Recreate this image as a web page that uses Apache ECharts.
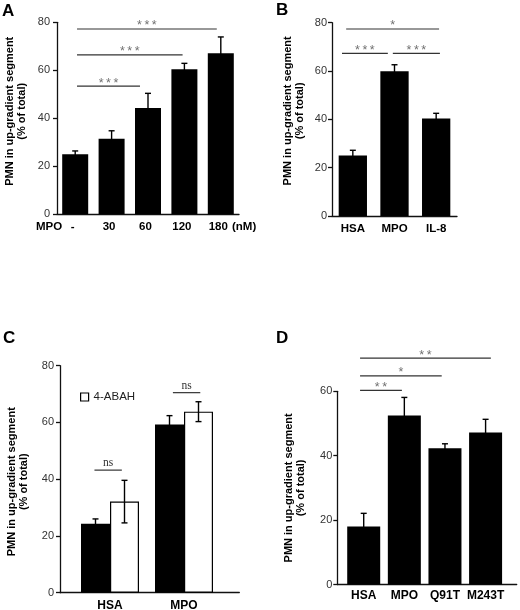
<!DOCTYPE html>
<html><head><meta charset="utf-8">
<script src="https://cdn.jsdelivr.net/npm/echarts@6/dist/echarts.min.js"></script>
<style>html,body{margin:0;padding:0;background:#fff}#c{width:520px;height:610px}</style>
</head><body><div id="c"></div>
<script>
// ---- Panel A ----
const aCategories = ['-', '30', '60', '120', '180'];
const aValues = [25, 31.5, 44.3, 60.4, 67.1];
const aErrors = [1.4, 3.3, 6.1, 2.5, 6.8];
// [from (category units), to (category units), y value, label]
const aSig = [[0.05, 3.89, 77.2, '*\u2009*\u2009*'], [0.05, 2.95, 66.4, '*\u2009*\u2009*'], [0.05, 1.78, 53.4, '*\u2009*\u2009*']];

// ---- Panel B ----
const bCategories = ['HSA', 'MPO', 'IL-8'];
const bValues = [25, 59.9, 40.4];
const bErrors = [2.2, 2.7, 2.1];
const bSig = [[-0.16, 2.07, 77.4, '*'], [-0.26, 0.84, 67.3, '*\u2009*\u2009*'], [0.96, 2.09, 67.3, '*\u2009*\u2009*']];

// ---- Panel C ----
const cCategories = ['HSA', 'MPO'];
const cControl = [24.3, 59.3];
const cControlErr = [1.7, 3.1];
const cAbah = [32.1, 63.8];
const cAbahErr = [7.5, 3.5];
const cSig = [[-0.21, 0.16, 43.2, 'ns'], [0.85, 1.22, 70.5, 'ns']];

// ---- Panel D ----
const dCategories = ['HSA', 'MPO', 'Q91T', 'M243T'];
const dValues = [18.0, 52.5, 42.3, 47.2];
const dErrors = [4.1, 5.6, 1.4, 4.1];
const dSig = [[-0.09, 3.13, 70.3, '*\u2009*'], [-0.09, 1.92, 64.8, '*'], [-0.09, 0.94, 60.3, '*\u2009*']];

const yTitle = 'PMN in up-gradient segment\n(% of total)';
const FONT = '"Liberation Sans", Arial, Helvetica, sans-serif';
const SERIF = '"Liberation Serif", "Times New Roman", serif';
const AX = {color: '#111', width: 1.3};

function yAxisCfg(gridIndex, max, margin, nameGap, shift, offset) {
  return {
    type: 'value', gridIndex: gridIndex, min: 0, max: max, interval: 20, offset: offset || 0,
    name: yTitle, nameLocation: 'middle', nameRotate: 90, nameGap: nameGap,
    nameTextStyle: {fontFamily: FONT, fontWeight: 'bold', fontSize: 11, color: '#000', lineHeight: 12,
      padding: shift > 0 ? [0, 0, 0, 2 * shift] : [0, -2 * shift, 0, 0]},
    axisLine: {show: true, onZero: false, lineStyle: AX},
    axisTick: {show: true, inside: false, length: 4, lineStyle: AX},
    axisLabel: {fontFamily: FONT, fontSize: 11, color: '#333', margin: margin},
    splitLine: {show: false}
  };
}
function xCatCfg(gridIndex, data, fontSize, margin, showLine, pad) {
  return {
    type: 'category', gridIndex: gridIndex, data: data,
    axisLine: {show: showLine, onZero: false, lineStyle: AX},
    axisTick: {show: false},
    axisLabel: {fontFamily: FONT, fontWeight: 'bold', fontSize: fontSize, color: '#000', margin: margin,
      interval: 0, padding: pad || 0},
    splitLine: {show: false}
  };
}
function frameX(gridIndex) {
  return {type: 'value', gridIndex: gridIndex, min: 0, max: 1,
    axisLine: {show: true, onZero: false, lineStyle: AX}, axisTick: {show: false},
    axisLabel: {show: false}, splitLine: {show: false}};
}
function hiddenY(gridIndex) {
  return {type: 'value', gridIndex: gridIndex, min: 0, max: 1, show: false};
}
function errSeries(axisIndex, vals, errs, dx) {
  return {
    type: 'custom', xAxisIndex: axisIndex, yAxisIndex: axisIndex, z: 5, silent: true, clip: false,
    data: vals.map(function (v, i) { return [i, v, errs[i]]; }),
    renderItem: function (params, api) {
      const i = api.value(0), v = api.value(1), e = api.value(2);
      const p1 = api.coord([i, v + e]), p0 = api.coord([i, v - e]);
      const x = p1[0] + dx, hw = 3;
      const st = {stroke: '#000', lineWidth: 1.4};
      return {type: 'group', children: [
        {type: 'line', shape: {x1: x, y1: p0[1], x2: x, y2: p1[1]}, style: st},
        {type: 'line', shape: {x1: x - hw, y1: p1[1], x2: x + hw, y2: p1[1]}, style: st},
        {type: 'line', shape: {x1: x - hw, y1: p0[1], x2: x + hw, y2: p0[1]}, style: st}
      ]};
    }
  };
}
function sigSeries(axisIndex, sig, opts) {
  return {
    type: 'custom', xAxisIndex: axisIndex, yAxisIndex: axisIndex, z: 6, silent: true, clip: false,
    data: sig.map(function (s) { return [0, s[2], s[0], s[1]]; }),
    renderItem: function (params, api) {
      const y = api.value(1), a = api.value(2), b = api.value(3);
      const base = api.coord([0, y]);
      const bw = api.size([1, 0])[0];
      const x1 = base[0] + a * bw, x2 = base[0] + b * bw;
      const label = sig[params.dataIndex][3];
      return {type: 'group', children: [
        {type: 'line', shape: {x1: x1, y1: base[1], x2: x2, y2: base[1]}, style: {stroke: '#333', lineWidth: 1.2}},
        {type: 'text', style: {text: label, x: (x1 + x2) / 2, y: base[1] + opts.dy, align: 'center',
          verticalAlign: opts.va, fontFamily: opts.font, fontSize: opts.size, fill: opts.color}}
      ]};
    }
  };
}
const starOpts = {dy: -3, va: 'middle', font: FONT, size: 12.5, color: '#707070'};
const nsOpts = {dy: -1, va: 'bottom', font: SERIF, size: 11.5, color: '#333'};

const chart = echarts.init(document.getElementById('c'), null, {renderer: 'canvas'});
chart.setOption({
  animation: false,
  backgroundColor: '#fff',
  grid: [
    {left: 57, top: 22.3, width: 182, height: 192, outerBoundsMode: 'none'},
    {left: 332, top: 22.7, width: 125, height: 193.3, outerBoundsMode: 'none'},
    {left: 73, top: 365.7, width: 148, height: 227, outerBoundsMode: 'none'},
    {left: 60, top: 365.7, width: 179.3, height: 227, outerBoundsMode: 'none'},
    {left: 343.4, top: 391.3, width: 162.5, height: 193.2, outerBoundsMode: 'none'},
    {left: 337.3, top: 391.3, width: 179.4, height: 193.2, outerBoundsMode: 'none'}
  ],
  xAxis: [
    xCatCfg(0, aCategories, 11.5, 6.5, true, [0, 5, 0, 0]),
    xCatCfg(1, bCategories, 11.5, 7, true),
    xCatCfg(2, cCategories, 12, 7, false),
    frameX(3),
    xCatCfg(4, dCategories, 12, 5, false),
    frameX(5)
  ],
  yAxis: [
    yAxisCfg(0, 80, 7, 28.7, 7, 0),
    yAxisCfg(1, 80, 5, 25.7, 8.5, 0),
    yAxisCfg(2, 80, 6, 30, -2.5, 13),
    hiddenY(3),
    yAxisCfg(4, 60, 5, 30.6, 0, 6.1),
    hiddenY(5)
  ],
  legend: {
    data: ['4-ABAH'], left: 75, top: 386, itemWidth: 8, itemHeight: 8, icon: 'rect', selectedMode: false,
    textStyle: {fontFamily: FONT, fontSize: 11.5, color: '#222'},
    itemStyle: {color: '#fff', borderColor: '#000', borderWidth: 1.2}
  },
  graphic: [
    {type: 'text', left: 2, top: 3, style: {text: 'A', font: 'bold 17px ' + FONT, fill: '#000'}},
    {type: 'text', left: 276, top: 2, style: {text: 'B', font: 'bold 17px ' + FONT, fill: '#000'}},
    {type: 'text', left: 3, top: 330, style: {text: 'C', font: 'bold 17px ' + FONT, fill: '#000'}},
    {type: 'text', left: 276, top: 330, style: {text: 'D', font: 'bold 17px ' + FONT, fill: '#000'}},
    {type: 'text', left: 36, top: 220.5, style: {text: 'MPO', font: 'bold 11.5px ' + FONT, fill: '#000'}},
    {type: 'text', left: 232, top: 220.5, style: {text: '(nM)', font: 'bold 11.5px ' + FONT, fill: '#000'}}
  ],
  series: [
    {type: 'bar', xAxisIndex: 0, yAxisIndex: 0, data: aValues, barWidth: 26, itemStyle: {color: '#000'}, silent: true},
    errSeries(0, aValues, aErrors, 0),
    sigSeries(0, aSig, starOpts),

    {type: 'bar', xAxisIndex: 1, yAxisIndex: 1, data: bValues, barWidth: 28.3, itemStyle: {color: '#000'}, silent: true},
    errSeries(1, bValues, bErrors, 0),
    sigSeries(1, bSig, starOpts),

    {type: 'bar', name: 'Control', xAxisIndex: 2, yAxisIndex: 2, data: cControl, barWidth: 29, barGap: '0%',
      itemStyle: {color: '#000', borderColor: '#000', borderWidth: 1.2}, silent: true},
    {type: 'bar', name: '4-ABAH', xAxisIndex: 2, yAxisIndex: 2, data: cAbah, barWidth: 29, barGap: '0%',
      itemStyle: {color: '#fff', borderColor: '#000', borderWidth: 1.2}, silent: true},
    errSeries(2, cControl, cControlErr, -14.5),
    errSeries(2, cAbah, cAbahErr, 14.5),
    sigSeries(2, cSig, nsOpts),

    {type: 'bar', xAxisIndex: 4, yAxisIndex: 4, data: dValues, barWidth: 33, itemStyle: {color: '#000'}, silent: true},
    errSeries(4, dValues, dErrors, 0),
    sigSeries(4, dSig, starOpts)
  ]
});
</script>
</body></html>
